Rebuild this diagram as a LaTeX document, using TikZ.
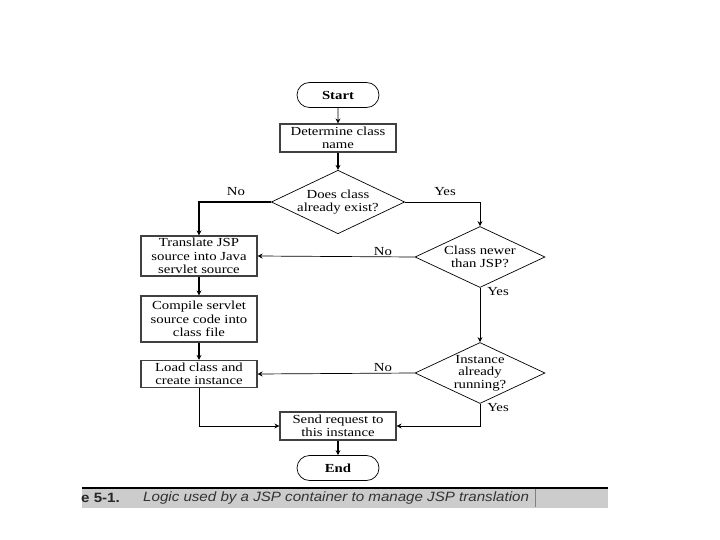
\documentclass[tikz,border=0pt]{standalone}
\usepackage{fontspec}
\setmainfont{Liberation Serif}[FakeStretch=1.2]
\setsansfont{Liberation Sans}[FakeStretch=1.12]
\usetikzlibrary{shapes.geometric,shapes.misc,arrows.meta}
\begin{document}
\begin{tikzpicture}[x=1pt,y=-1pt,
  every node/.style={font=\fontsize{12.3}{13.5}\selectfont, align=center, inner sep=1pt},
  proc/.style={draw=black!75, line width=1.1pt, minimum width=116pt, fill=white},
  term/.style={draw, line width=0.7pt, rounded rectangle, minimum width=84pt, minimum height=25pt},
  dec/.style={draw, line width=0.7pt, diamond, aspect=2.1, minimum width=130pt, minimum height=61pt, inner sep=0pt},
  thick line/.style={line width=1.4pt, -{Stealth[length=5pt,width=5pt]}},
  thin line/.style={line width=0.7pt, -{Stealth[length=5pt,width=5pt]}},
  lbl/.style={font=\fontsize{12.3}{13.5}\selectfont}
]
\useasboundingbox (0,0) rectangle (720,540);
\fill[white] (0,0) rectangle (720,540);
% nodes
\node[term] (start) at (338,95) {\textbf{Start}};
\node[proc, minimum height=28pt] (det) at (338,138) {Determine class\\name};
\node[dec] (d1) at (338,202) {Does class\\already exist?};
\node[dec] (d2) at (480,257) {Class newer\\than JSP?};
\node[dec, font=\fontsize{12.3}{12.5}\selectfont] (d3) at (480,373) {Instance\\already\\running?};
\node[proc, minimum height=40pt] (tr) at (199,256) {Translate JSP\\source into Java\\servlet source};
\node[proc, minimum height=46pt] (co) at (199,319) {Compile servlet\\source code into\\class file};
\node[proc, minimum height=27pt] (lo) at (199,374) {Load class and\\create instance};
\node[proc, minimum height=28pt] (se) at (338,426) {Send request to\\this instance};
\node[term] (end) at (338,468) {\textbf{End}};
% connectors
\draw[thin line] (start) -- (det);
\draw[thick line] (det) -- (d1);
\draw[thick line] (d1.west) -| (tr.north);
\node[lbl] (no1) at (236,192) {No};
\draw[thin line] (d1.east) -| (d2.north);
\node[lbl] (yes1) at (445,192) {Yes};
\draw[thin line] (d2.west) -- (tr.east);
\node[lbl] (no2) at (383,252) {No};
\draw[thin line] (d2.south) -- (d3.north);
\node[lbl] (yes2) at (498,292) {Yes};
\draw[thin line] (d3.west) -- (lo.east);
\node[lbl] (no3) at (383,368) {No};
\coordinate (c3) at (480,426);
\draw[thin line] (d3.south) -- (c3) -- (se.east);
\node[lbl] (yes3) at (498,408) {Yes};
\draw[thick line] (tr) -- (co);
\draw[thick line] (co) -- (lo);
\coordinate (c4) at (199,426);
\draw[thin line] (lo.south) -- (c4) -- (se.west);
\draw[thick line] (se) -- (end);
% caption
\fill[black!20] (82,488) rectangle (608,508);
\draw[line width=2pt] (82,488) -- (608,488);
\draw[black!50, line width=0.6pt] (535,489) -- (535,507);
\node[anchor=west, font=\sffamily\bfseries\fontsize{13.5}{14}\selectfont, text=black!85] (capn) at (80,498) {e 5-1.};
\node[anchor=west, font=\sffamily\itshape\fontsize{13.5}{14}\selectfont, text=black!80] (capt) at (142,498) {Logic used by a JSP container to manage JSP translation};
\end{tikzpicture}
\end{document}
